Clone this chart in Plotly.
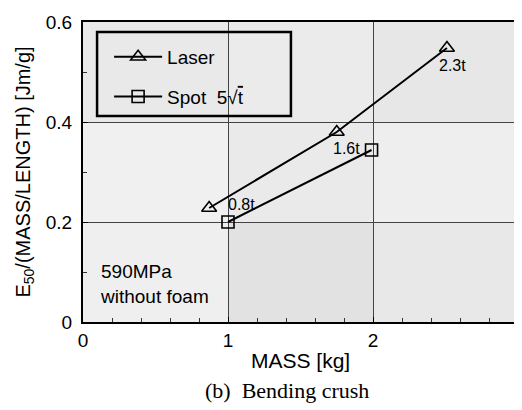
import plotly.graph_objects as go

# ---- data ----
laser_mass = [0.87, 1.75, 2.51]
laser_energy = [0.228, 0.380, 0.548]
spot_mass = [1.0, 1.99]
spot_energy = [0.200, 0.344]
thickness_labels = ["0.8t", "1.6t", "2.3t"]

x_ticks = [0, 1, 2, 3]
y_ticks = [0, 0.2, 0.4, 0.6]
y_tick_labels = ["0", "0.2", "0.4", "0.6"]

FONT = "Liberation Sans, Arial, sans-serif"
SERIF = "Liberation Serif, Times New Roman, serif"

fig = go.Figure()

fig.add_trace(go.Scatter(
    x=laser_mass, y=laser_energy, mode="lines+markers", name="Laser",
    legendgroup="a",
    line=dict(color="black", width=2),
    marker=dict(symbol="triangle-up-open", size=13, color="black", line=dict(width=1.6)),
))
fig.add_trace(go.Scatter(
    x=spot_mass, y=spot_energy, mode="lines+markers",
    name="Spot  5√<span style='text-decoration:overline'>t</span>",
    legendgroup="b",
    line=dict(color="black", width=2),
    marker=dict(symbol="square-open", size=12, color="black", line=dict(width=1.6)),
))

# background stipple approximation
shades = [
    (0, 1, 0, 0.2, "#efefef"), (1, 2, 0, 0.2, "#e2e2e2"), (2, 3, 0, 0.2, "#e8e8e8"),
    (0, 1, 0.2, 0.4, "#f0f0f0"), (1, 2, 0.2, 0.4, "#eaeaea"), (2, 3, 0.2, 0.4, "#eeeeee"),
    (0, 1, 0.4, 0.6, "#e9e9e9"), (1, 2, 0.4, 0.6, "#ebebeb"), (2, 3, 0.4, 0.6, "#e7e7e7"),
]
for x0, x1, y0, y1, c in shades:
    fig.add_shape(type="rect", x0=x0, x1=x1, y0=y0, y1=y1, xref="x", yref="y",
                  fillcolor=c, line=dict(width=0), layer="below")

# legend frame
fig.add_shape(type="rect", x0=0.097, x1=1.434, y0=0.412, y1=0.58, xref="x", yref="y",
              fillcolor="rgba(0,0,0,0)", line=dict(color="black", width=2.5))

# point labels
fig.add_annotation(x=laser_mass[0], y=laser_energy[0], text=thickness_labels[0],
                   showarrow=False, xanchor="left", yanchor="middle", xshift=17, yshift=4,
                   font=dict(family=FONT, size=16, color="black"))
fig.add_annotation(x=laser_mass[1], y=laser_energy[1], text=thickness_labels[1],
                   showarrow=False, xanchor="left", yanchor="top", xshift=-6, yshift=-6,
                   font=dict(family=FONT, size=16, color="black"))
fig.add_annotation(x=laser_mass[2], y=laser_energy[2], text=thickness_labels[2],
                   showarrow=False, xanchor="left", yanchor="top", xshift=-10, yshift=-7,
                   font=dict(family=FONT, size=16, color="black"))

fig.add_annotation(x=0.035, y=0.127, xref="paper", yref="paper",
                   text="590MPa<br>without foam", showarrow=False, align="left",
                   xanchor="left", yanchor="middle",
                   font=dict(family=FONT, size=19, color="black"))

# x title and caption
fig.add_annotation(x=0.499, y=-0.127, xref="paper", yref="paper",
                   text="MASS [kg]", showarrow=False,
                   xanchor="center", yanchor="middle",
                   font=dict(family=FONT, size=21, color="black"))
fig.add_annotation(x=0.469, y=-0.227, xref="paper", yref="paper",
                   text="(b)  Bending crush", showarrow=False,
                   xanchor="center", yanchor="middle",
                   font=dict(family=SERIF, size=22, color="black"))

# page has an 8px body margin: size the figure so the plot lands where the reference has it
fig.update_layout(
    width=514, height=402,
    margin=dict(l=75, r=4, t=14, b=88),
    paper_bgcolor="white", plot_bgcolor="#eaeaea",
    font=dict(family=FONT, size=19, color="black"),
    showlegend=True,
    legend=dict(x=0.06, y=0.947, xanchor="left", yanchor="top",
                bgcolor="rgba(0,0,0,0)", borderwidth=0,
                traceorder="grouped", tracegroupgap=12, itemwidth=48,
                font=dict(family=FONT, size=19)),
    xaxis=dict(range=[0, 3], tickvals=x_ticks, ticktext=[str(v) for v in x_ticks],
               automargin=False,
               showgrid=True, gridcolor="#444", gridwidth=1,
               showline=True, linecolor="black", linewidth=2, mirror=True,
               ticks="inside", ticklen=5, tickcolor="black",
               minor=dict(dtick=0.2, ticks="inside", ticklen=4, tickcolor="#333", showgrid=False),
               zeroline=False, tickfont=dict(size=19)),
    yaxis=dict(range=[0, 0.6], tickvals=y_ticks, ticktext=y_tick_labels,
               automargin=False, ticklabelstandoff=5,
               showgrid=True, gridcolor="#444", gridwidth=1,
               showline=True, linecolor="black", linewidth=2, mirror=True,
               ticks="inside", ticklen=5, tickcolor="black",
               minor=dict(dtick=0.1, ticks="inside", ticklen=4, tickcolor="#333", showgrid=False),
               zeroline=False, tickfont=dict(size=19),
               title=dict(text="E<sub>50</sub>/(MASS/LENGTH) [Jm/g]",
                          font=dict(family=FONT, size=20), standoff=10)),
)

fig.write_html("out.html")
